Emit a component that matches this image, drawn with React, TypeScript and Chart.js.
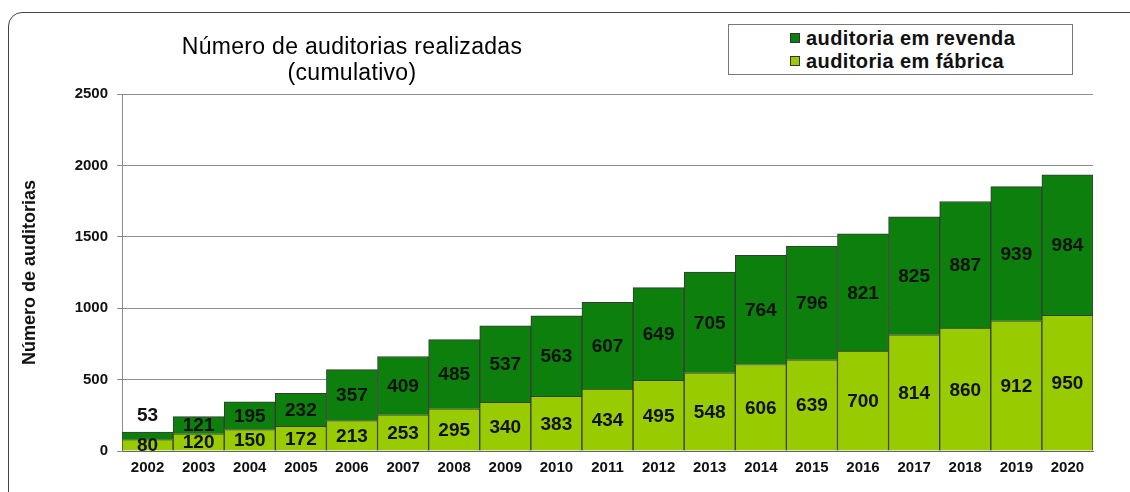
import React, { useEffect, useRef } from "react";
import { Chart, registerables } from "chart.js";

Chart.register(...registerables);

const years = ["2002","2003","2004","2005","2006","2007","2008","2009","2010","2011","2012","2013","2014","2015","2016","2017","2018","2019","2020"];
const fabrica = [80,120,150,172,213,253,295,340,383,434,495,548,606,639,700,814,860,912,950];
const revenda = [53,121,195,232,357,409,485,537,563,607,649,705,764,796,821,825,887,939,984];
const yTickValues = [0,500,1000,1500,2000,2500];

const titleLines = ["Número de auditorias realizadas", "(cumulativo)"];
const yAxisTitle = "Número de auditorias";
const seriesNames = { revenda: "auditoria em revenda", fabrica: "auditoria em fábrica" };

const DARK = "#0c7f0c";
const LIGHT = "#99cc00";
const FONT = '"Liberation Sans", Arial, sans-serif';

const labelPlugin = {
  id: "barLabels",
  afterDatasetsDraw(chart: any) {
    const ctx = chart.ctx;
    ctx.save();
    ctx.font = `bold 19px ${FONT}`;
    ctx.fillStyle = "#111";
    ctx.textAlign = "center";
    ctx.textBaseline = "middle";
    chart.data.datasets.forEach((ds: any, i: number) => {
      const meta = chart.getDatasetMeta(i);
      meta.data.forEach((bar: any, j: number) => {
        const { x, y, base } = bar.getProps(["x", "y", "base"], true);
        const h = Math.abs(base - y);
        const ty = h < 9 ? y - 17 : (y + base) / 2;
        ctx.fillText(String(ds.data[j]), x, ty + 1);
      });
    });
    ctx.restore();
  },
};

export default function App() {
  const ref = useRef<HTMLCanvasElement | null>(null);

  useEffect(() => {
    if (!ref.current) return;
    const chart = new Chart(ref.current, {
      type: "bar",
      data: {
        labels: years,
        datasets: [
          {
            label: seriesNames.fabrica,
            data: fabrica,
            backgroundColor: LIGHT,
            borderColor: "#3a3a3a",
            borderWidth: 1,
            barPercentage: 1,
            categoryPercentage: 1,
          },
          {
            label: seriesNames.revenda,
            data: revenda,
            backgroundColor: DARK,
            borderColor: "#3a3a3a",
            borderWidth: 1,
            barPercentage: 1,
            categoryPercentage: 1,
          },
        ],
      },
      options: {
        animation: false,
        responsive: false,
        maintainAspectRatio: false,
        layout: { padding: { top: 94, right: 37, left: 0, bottom: 0 } },
        plugins: {
          legend: { display: false },
          title: { display: false },
          tooltip: { enabled: false },
        },
        scales: {
          x: {
            stacked: true,
            grid: { display: false, drawTicks: false },
            border: { display: true, color: "#666", width: 1 },
            ticks: { padding: 8, color: "#111", font: { family: FONT, size: 15, weight: "bold" } },
            afterFit: (s: any) => { s.height = 41; },
          },
          y: {
            stacked: true,
            min: 0,
            max: 2500,
            afterBuildTicks: (s: any) => { s.ticks = yTickValues.map((v) => ({ value: v })); },
            ticks: {
              padding: 9,
              color: "#111",
              font: { family: FONT, size: 15, weight: "bold" },
              callback: (v: any) => String(v),
            },
            grid: { color: "#8c8c8c", tickLength: 5, lineWidth: 1 },
            border: { display: true, color: "#8c8c8c", width: 1 },
            title: {
              display: true,
              text: yAxisTitle,
              color: "#111",
              font: { family: FONT, size: 18, weight: "bold" },
              padding: { top: 19, bottom: 0 },
            },
            afterFit: (s: any) => { s.width = 122; },
          },
        },
      },
      plugins: [labelPlugin],
    } as any);
    return () => chart.destroy();
  }, []);

  const legendRow = (name: string, color: string, top: number) => (
    <div style={{ position: "absolute", left: 0, top, width: "100%", height: 23 }}>
      <div style={{ position: "absolute", left: 61, top: 6, width: 10, height: 10, background: color, border: "1px solid #333", boxSizing: "border-box" }} />
      <div style={{ position: "absolute", left: 77, top: 0, lineHeight: "23px", fontFamily: FONT, fontWeight: "bold", fontSize: 20, letterSpacing: 0.4, color: "#111", whiteSpace: "nowrap" }}>{name}</div>
    </div>
  );

  return (
    <div style={{ position: "fixed", left: 0, top: 0, width: 1130, height: 492, background: "#fff", overflow: "hidden" }}>
      <div style={{ position: "absolute", left: 8, top: 12, width: 1300, height: 700, border: "1.5px solid #444", borderTopLeftRadius: 14 }} />
      <canvas ref={ref} width={1130} height={492} style={{ position: "absolute", left: 0, top: 0, width: 1130, height: 492 }} />
      <div style={{ position: "absolute", left: 102, top: 33, width: 500, textAlign: "center", fontFamily: FONT, fontSize: 23, lineHeight: "26px", letterSpacing: 0.3, color: "#000" }}>
        {titleLines.map((t, i) => <div key={i}>{t}</div>)}
      </div>
      <div style={{ position: "absolute", left: 728, top: 24, width: 345, height: 51, border: "1px solid #777", boxSizing: "border-box", background: "#fff" }}>
        {legendRow(seriesNames.revenda, DARK, 2)}
        {legendRow(seriesNames.fabrica, LIGHT, 25)}
      </div>
    </div>
  );
}
